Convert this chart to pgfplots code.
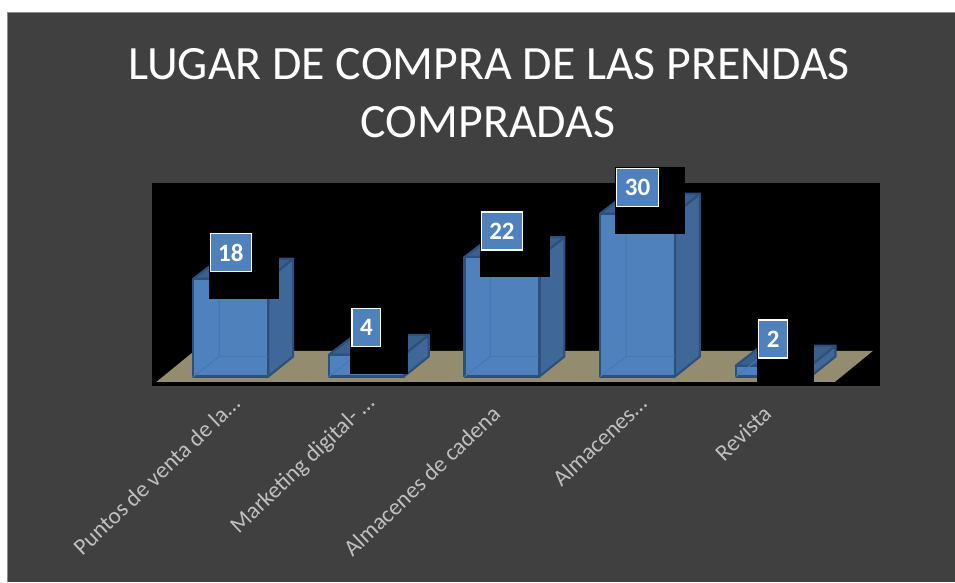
\documentclass[border=0pt]{standalone}
\usepackage{fontspec}
\setmainfont{Carlito}
\usepackage{pgfplots}
\pgfplotsset{compat=1.18}
\definecolor{bg}{HTML}{404040}
\definecolor{edgegray}{HTML}{8C8C8C}
\definecolor{floorc}{HTML}{938C6F}
\definecolor{frontc}{HTML}{4F81BD}
\definecolor{sidec}{HTML}{3F6797}
\definecolor{topc}{HTML}{3A5F8C}
\definecolor{barline}{HTML}{2C4F7C}
\definecolor{innerc}{HTML}{4877AE}
\definecolor{tickc}{HTML}{BFBFBF}
\newcommand{\threedbar}[2]{%
  \pgfmathsetmacro\Lx{#1-0.2765}\pgfmathsetmacro\Rx{#1+0.2765}%
  \pgfmathsetmacro\BRx{#1+0.46}\pgfmathsetmacro\BLx{#1-0.0849}%
  \pgfmathsetmacro\Top{#2}\pgfmathsetmacro\BTop{#2+3.68}%
  \addplot[fill=sidec,draw=barline,line width=2.1pt,line join=round] coordinates {(\Rx,0) (\BRx,3.68) (\BRx,\BTop) (\Rx,\Top)} -- cycle;
  \addplot[fill=topc,draw=barline,line width=2.1pt,line join=round] coordinates {(\Lx,\Top) (\BLx,\BTop) (\BRx,\BTop) (\Rx,\Top)} -- cycle;
  \addplot[ybar,bar width=0.553,bar shift=0pt,fill=frontc,draw=barline,line width=2.1pt,line join=round] coordinates {(#1,#2)};
  \addplot[innerc,line width=1pt] coordinates {(\Lx,0) (\BLx,3.68) (\BLx,\Top)};
  \addplot[innerc,line width=1pt] coordinates {(\BLx,3.68) (\Rx,3.68)};
}
\newcommand{\patch}[4]{%
  \addplot[fill=black,draw=none] coordinates {(#1,#3) (#2,#3) (#2,#4) (#1,#4)} -- cycle;
}
\begin{document}
\begin{tikzpicture}
\useasboundingbox (-152pt,-196pt) rectangle (803pt,386pt);
\fill[white] (-152pt,-196pt) rectangle (803pt,386pt);
\fill[edgegray] (-145pt,-196pt) rectangle (803pt,374pt);
\fill[bg] (-144pt,-196pt) rectangle (803pt,373pt);
\node[anchor=base,text=white,font=\fontsize{47.8}{48}\selectfont] at (337pt,307pt) {LUGAR DE COMPRA DE LAS PRENDAS};
\node[anchor=base,text=white,font=\fontsize{47.8}{48}\selectfont] at (336pt,249pt) {COMPRADAS};
\begin{axis}[
  at={(0pt,0pt)},anchor=south west,
  scale only axis,width=728pt,height=203pt,
  xmin=-0.581,xmax=4.788,ymin=-1.75,ymax=35.64,
  clip=false,
  axis background/.style={fill=black},
  axis line style={draw=none},
  major tick length=0pt,
  ytick=\empty,
  xtick={0,1,2,3,4},
  xticklabels={Puntos de venta de la…,Marketing digital- …,{Almacenes de cadena\hspace{15pt}\mbox{}},Almacenes…,{Revista\hspace{15pt}\mbox{}}},
  xticklabel style={rotate=43.5,anchor=east,text=tickc,font=\fontsize{23.3}{24}\selectfont,yshift=-13.6pt,xshift=-2.4pt},
]
% floor
\addplot[fill=floorc,draw=none] coordinates {(-0.549,-1.01) (4.455,-1.01) (4.735,4.70) (-0.269,4.70)} -- cycle;
% bars
\threedbar{0}{18}
\threedbar{1}{4}
\threedbar{2}{22}
\threedbar{3}{30}
\threedbar{4}{2}
% black patches behind the labels
\patch{-0.161}{0.355}{26.43}{14.27}
\patch{0.879}{1.307}{12.62}{0.46}
\patch{1.838}{2.354}{30.48}{18.32}
\patch{2.833}{3.349}{38.58}{26.24}
\patch{3.881}{4.302}{10.41}{-1.75}
% data labels
\addplot[only marks,mark=none,point meta=explicit symbolic,nodes near coords,
  every node near coord/.append style={anchor=center,fill=frontc,draw=white,line width=1.2pt,text=white,
    font=\fontsize{25}{25}\selectfont\bfseries,inner xsep=8pt,inner ysep=0pt,minimum height=38pt}]
  coordinates {(0,22.84) [18] (1,9.02) [4] (2,26.8) [22] (3,34.8) [30] (4,6.9) [2]};
\end{axis}
\end{tikzpicture}
\end{document}
